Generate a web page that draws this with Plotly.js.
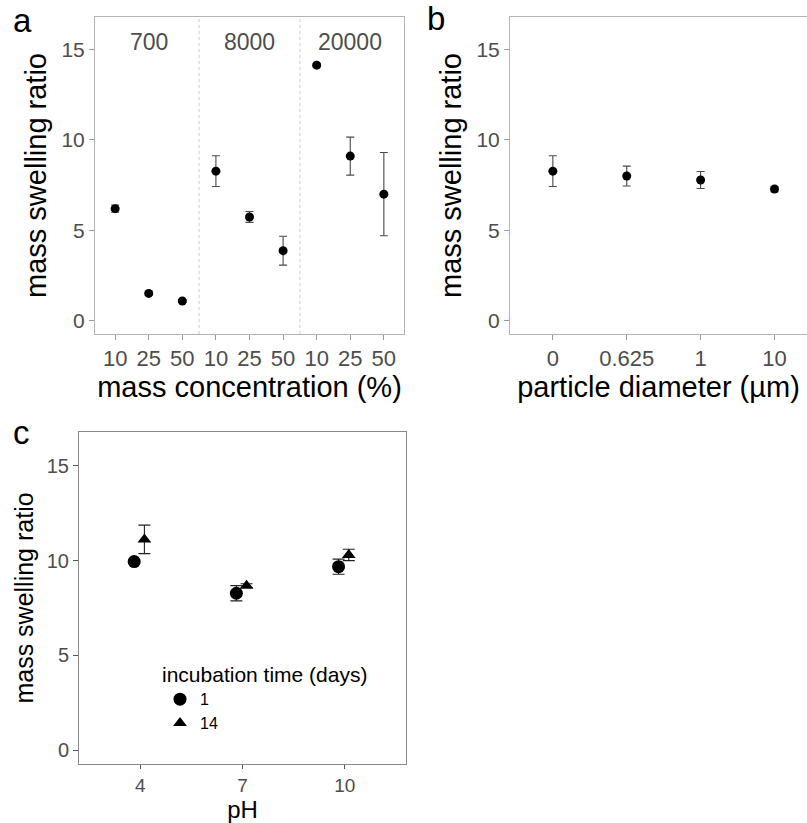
<!DOCTYPE html>
<html><head><meta charset="utf-8">
<script src="https://cdn.plot.ly/plotly-3.0.1.min.js"></script>
<style>html,body{margin:0;padding:0;background:#fff}</style>
</head><body><div id="chart" style="width:807px;height:823px"></div>
<script>
// Panel a: molecular weight groups x mass concentration
const mwGroups = ['700', '8000', '20000'];
const concLabels = ['10', '25', '50'];
const swellA = [[6.2, 1.52, 1.1], [8.27, 5.74, 3.88], [14.12, 9.1, 7.0]];
const errA = [[0.2, 0.08, 0.08], [0.85, 0.3, 0.8], [0.1, 1.05, 2.3]];

// Panel b: particle diameter
const diamLabels = ['0', '0.625', '1', '10'];
const swellB = [8.27, 8.0, 7.78, 7.28];
const errB = [0.85, 0.55, 0.47, 0.15];

// Panel c: pH x incubation time
const phLabels = ['4', '7', '10'];
const daysLabels = ['1', '14'];
const swellC1 = [9.95, 8.28, 9.68];
const errC1 = [0.1, 0.4, 0.4];
const swellC14 = [11.12, 8.68, 10.3];
const errC14 = [0.75, 0.1, 0.3];

const FAM = 'Liberation Sans, Arial, sans-serif';
const tickFontX = {family: FAM, size: 22, color: '#4d4d4d'};
const tickFontY = {family: FAM, size: 21, color: '#4d4d4d'};
const titleFont = {family: FAM, size: 29, color: '#000'};
const yRange = [-0.72, 16.78];

// build panel a
const xa = [], ya = [], ea = [], tva = [], tta = [];
mwGroups.forEach((g, gi) => concLabels.forEach((c, ci) => {
  const idx = gi * concLabels.length + ci;
  xa.push(idx); ya.push(swellA[gi][ci]); ea.push(errA[gi][ci]);
  tva.push(idx); tta.push(c);
}));
const xb = diamLabels.map((d, i) => i);
const xc = phLabels.map((p, i) => i);

const errStyle = (arr) => ({type: 'data', array: arr, visible: true, color: '#4a4a4a', thickness: 1.1, width: 4});

const traces = [
  {x: xa, y: ya, xaxis: 'x', yaxis: 'y', type: 'scatter', mode: 'markers',
   marker: {color: '#000', size: 9}, error_y: errStyle(ea), showlegend: false},
  {x: xb, y: swellB, xaxis: 'x2', yaxis: 'y2', type: 'scatter', mode: 'markers',
   marker: {color: '#000', size: 9}, error_y: errStyle(errB), showlegend: false},
  {x: xc.map(v => v - 0.06), y: swellC1, xaxis: 'x3', yaxis: 'y3', type: 'scatter', mode: 'markers',
   name: daysLabels[0], marker: {color: '#000', size: 13, symbol: 'circle'},
   error_y: {type: 'data', array: errC1, visible: true, color: '#222', thickness: 1.1, width: 6}},
  {x: xc.map(v => v + 0.04), y: swellC14, xaxis: 'x3', yaxis: 'y3', type: 'scatter', mode: 'markers',
   name: daysLabels[1], marker: {color: '#000', size: 12, symbol: 'triangle-up'},
   error_y: {type: 'data', array: errC14, visible: true, color: '#222', thickness: 1.1, width: 6}}
];

const yBase = {range: yRange, tickvals: [0, 5, 10, 15], showgrid: false, zeroline: false,
  showline: true, linecolor: '#b3b3b3', linewidth: 1, ticks: 'outside', ticklen: 5, tickcolor: '#999',
  tickfont: tickFontY, title: {text: 'mass swelling ratio', font: titleFont, standoff: 6}};
const xBase = {showgrid: false, zeroline: false, showline: true, linecolor: '#b3b3b3', linewidth: 1,
  ticks: 'outside', ticklen: 5, tickcolor: '#999', tickfont: tickFontX};

const layout = {
  width: 807, height: 823, margin: {l: 0, r: 0, t: 0, b: 0},
  paper_bgcolor: '#fff', plot_bgcolor: '#fff',
  xaxis: Object.assign({}, xBase, {domain: [95/807, 404/807], range: [-0.6, 8.6], mirror: true,
    tickvals: tva, ticktext: tta, anchor: 'y',
    title: {text: 'mass concentration (%)', font: titleFont, standoff: 5}}),
  yaxis: Object.assign({}, yBase, {domain: [1 - 334/823, 1 - 17/823], mirror: true, anchor: 'x'}),
  xaxis2: Object.assign({}, xBase, {domain: [510/807, 1], range: [-0.58, 3.44], mirror: true,
    tickvals: xb, ticktext: diamLabels, anchor: 'y2',
    title: {text: 'particle diameter (µm)', font: titleFont, standoff: 5}}),
  yaxis2: Object.assign({}, yBase, {domain: [1 - 334/823, 1 - 17/823], mirror: false, anchor: 'x2'}),
  xaxis3: Object.assign({}, xBase, {domain: [79/807, 406/807], range: [-0.6, 2.6], mirror: true,
    linecolor: '#888', tickcolor: '#555', ticklen: 4, tickvals: xc, ticktext: phLabels, anchor: 'y3',
    tickfont: Object.assign({}, tickFontX, {size: 19}),
    title: {text: 'pH', font: Object.assign({}, titleFont, {size: 24}), standoff: 9}}),
  yaxis3: Object.assign({}, yBase, {domain: [1 - 764/823, 1 - 432/823], mirror: true, anchor: 'x3',
    linecolor: '#888', tickcolor: '#555', tickfont: Object.assign({}, tickFontY, {size: 20}),
    title: {text: 'mass swelling ratio', font: Object.assign({}, titleFont, {size: 25}), standoff: 6}}),
  showlegend: true,
  legend: {x: 160/807, y: 1 - 655/823, xanchor: 'left', yanchor: 'top', bgcolor: 'rgba(0,0,0,0)',
    title: {text: 'incubation time (days)', font: {family: FAM, size: 21, color: '#000'}},
    font: {family: FAM, size: 16, color: '#000'}, tracegroupgap: 0, itemwidth: 30},
  shapes: [2.5, 5.5].map(v => ({type: 'line', xref: 'x', yref: 'y domain', x0: v, x1: v, y0: 0, y1: 1,
    line: {color: '#cccccc', width: 1, dash: 'dot'}})),
  annotations: mwGroups.map((g, gi) => ({x: gi * 3 + 1, y: 15.4, xref: 'x', yref: 'y', text: g,
    showarrow: false, font: {family: FAM, size: 23, color: '#4d4d4d'}}))
    .concat([
      {text: 'a', x: 22/807, y: 1 - 21/823},
      {text: 'b', x: 436/807, y: 1 - 18/823},
      {text: 'c', x: 21/807, y: 1 - 432/823}
    ].map(p => Object.assign(p, {xref: 'paper', yref: 'paper', showarrow: false, xanchor: 'center', yanchor: 'middle',
      font: {family: FAM, size: 33, color: '#000'}})))
};

Plotly.newPlot('chart', traces, layout, {displayModeBar: false, staticPlot: true});
</script></body></html>
